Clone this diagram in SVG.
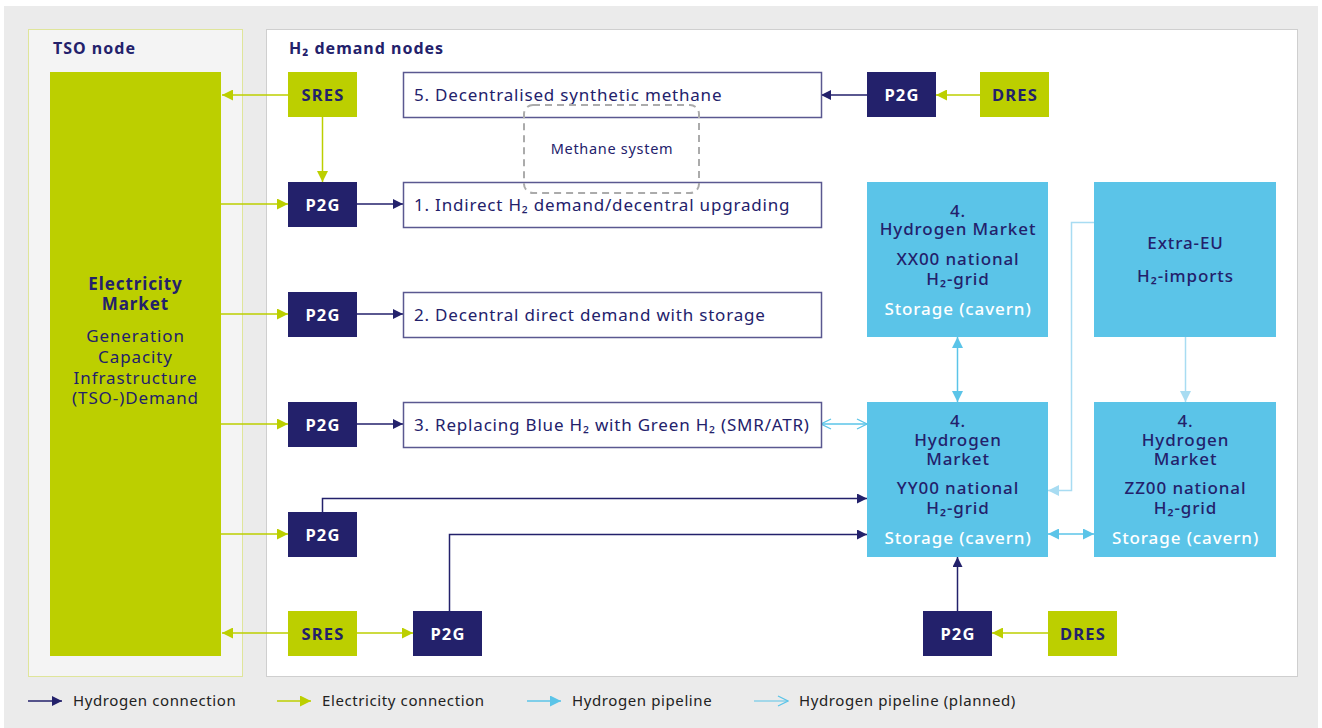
<svg xmlns="http://www.w3.org/2000/svg" width="1322" height="728" viewBox="0 0 1322 728">
  <style>
    text { font-family: "Noto Sans", "Liberation Sans", sans-serif; }
    .title { font-size: 16px; font-weight: 700; fill: #23216b; letter-spacing: 1px; }
    .navybox { fill: #23216b; }
    .limebox { fill: #bccf00; }
    .bluebox { fill: #5bc4e8; }
    .demand { fill: #ffffff; stroke: #5a5890; stroke-width: 1.5; }
    .p2g { font-size: 16.5px; font-weight: 700; fill: #ffffff; text-anchor: middle; letter-spacing: 1.2px; }
    .res { font-size: 16.5px; font-weight: 700; fill: #23216b; text-anchor: middle; letter-spacing: 1.2px; }
    .dtext { font-size: 17px; fill: #23216b; letter-spacing: 0.8px; }
    .btext { font-size: 17px; font-weight: 500; fill: #23216b; text-anchor: middle; letter-spacing: 0.9px; }
    .bold { font-weight: 700; }
    .reg { font-weight: 400; }
    .wtext { font-size: 17px; font-weight: 500; fill: #ffffff; text-anchor: middle; letter-spacing: 0.9px; }
    .h2 { stroke: #23216b; stroke-width: 1.5; fill: none; marker-end: url(#a-navy); }
    .el { stroke: #bccf00; stroke-width: 1.5; fill: none; marker-end: url(#a-lime); }
    .pipe { stroke: #5bc4e8; stroke-width: 1.5; fill: none; marker-end: url(#a-blue); marker-start: url(#a-blue); }
    .plan { stroke: #a8dcf2; stroke-width: 1.5; fill: none; marker-end: url(#a-light); }
    .legend { font-size: 15px; fill: #222222; letter-spacing: 0.6px; }
  </style>
  <defs>
    <marker id="a-navy" viewBox="0 0 10 10" refX="10" refY="5" markerWidth="10" markerHeight="10" markerUnits="userSpaceOnUse" orient="auto-start-reverse">
      <path d="M0,0 L10,5 L0,10 z" fill="#23216b"/>
    </marker>
    <marker id="a-lime" viewBox="0 0 10 10" refX="10" refY="5" markerWidth="11" markerHeight="11" markerUnits="userSpaceOnUse" orient="auto-start-reverse">
      <path d="M0,0 L10,5 L0,10 z" fill="#bccf00"/>
    </marker>
    <marker id="a-blue" viewBox="0 0 10 10" refX="10" refY="5" markerWidth="11" markerHeight="11" markerUnits="userSpaceOnUse" orient="auto-start-reverse">
      <path d="M0,0 L10,5 L0,10 z" fill="#5bc4e8"/>
    </marker>
    <marker id="a-light" viewBox="0 0 10 10" refX="10" refY="5" markerWidth="11" markerHeight="11" markerUnits="userSpaceOnUse" orient="auto-start-reverse">
      <path d="M0,0 L10,5 L0,10 z" fill="#a8dcf2"/>
    </marker>
    <marker id="a-open" viewBox="0 0 12 12" refX="11" refY="6" markerWidth="12" markerHeight="12" markerUnits="userSpaceOnUse" orient="auto-start-reverse">
      <path d="M1,1 L11,6 L1,11" fill="none" stroke="#5bc4e8" stroke-width="1.3"/>
    </marker>
  </defs>

  <!-- page background -->
  <rect x="0" y="0" width="1322" height="728" fill="#ffffff"/>
  <rect x="4" y="6" width="1314" height="722" fill="#ebebeb"/>

  <!-- panels -->
  <g id="tso-panel">
    <rect x="28.5" y="29.5" width="214" height="647" fill="#f4f4f4" stroke="#dfe59a" stroke-width="1"/>
    <text class="title" x="53" y="54">TSO node</text>
  </g>
  <g id="demand-panel">
    <rect x="266.5" y="29.5" width="1031" height="647" fill="#ffffff" stroke="#cfcfcf" stroke-width="1"/>
    <text class="title" x="289" y="54">H₂ demand nodes</text>
  </g>

  <!-- connectors -->
  <g id="connectors">
    <!-- electricity -->
    <line class="el" x1="288" y1="95" x2="222" y2="95"/>
    <line class="el" x1="322.5" y1="117" x2="322.5" y2="182"/>
    <line class="el" x1="221" y1="204" x2="288" y2="204"/>
    <line class="el" x1="221" y1="314" x2="288" y2="314"/>
    <line class="el" x1="221" y1="424" x2="288" y2="424"/>
    <line class="el" x1="221" y1="534" x2="288" y2="534"/>
    <line class="el" x1="288" y1="633" x2="222" y2="633"/>
    <line class="el" x1="357" y1="633" x2="413" y2="633"/>
    <line class="el" x1="980" y1="95" x2="936" y2="95"/>
    <line class="el" x1="1048" y1="633" x2="992" y2="633"/>
    <!-- hydrogen -->
    <line class="h2" x1="357" y1="204" x2="403" y2="204"/>
    <line class="h2" x1="357" y1="314" x2="403" y2="314"/>
    <line class="h2" x1="357" y1="424" x2="403" y2="424"/>
    <line class="h2" x1="867" y1="95" x2="821" y2="95"/>
    <polyline class="h2" points="322.5,512 322.5,498.5 867,498.5"/>
    <polyline class="h2" points="449.5,611 449.5,534.5 867,534.5"/>
    <line class="h2" x1="957.5" y1="611" x2="957.5" y2="557"/>
    <!-- pipelines -->
    <line stroke="#5bc4e8" stroke-width="1.5" marker-start="url(#a-open)" marker-end="url(#a-open)" x1="821" y1="424" x2="867" y2="424"/>
    <line class="pipe" x1="957.5" y1="337" x2="957.5" y2="402"/>
    <line class="pipe" x1="1048" y1="534" x2="1094" y2="534"/>
    <line class="plan" x1="1185.5" y1="337" x2="1185.5" y2="402"/>
    <polyline class="plan" points="1094,222.5 1071.5,222.5 1071.5,490.5 1048,490.5"/>
  </g>

  <!-- electricity market -->
  <g id="electricity-market">
    <rect class="limebox" x="50" y="72" width="171" height="584"/>
    <text class="btext bold" x="135.5" y="290">Electricity</text>
    <text class="btext bold" x="135.5" y="310">Market</text>
    <text class="btext reg" x="135.5" y="342">Generation</text>
    <text class="btext reg" x="135.5" y="363">Capacity</text>
    <text class="btext reg" x="135.5" y="384">Infrastructure</text>
    <text class="btext reg" x="135.5" y="404">(TSO-)Demand</text>
  </g>

  <!-- renewable sources -->
  <g id="sres-top"><rect class="limebox" x="288" y="72" width="69" height="45"/><text class="res" x="323" y="101">SRES</text></g>
  <g id="sres-bottom"><rect class="limebox" x="288" y="611" width="69" height="45"/><text class="res" x="323" y="640">SRES</text></g>
  <g id="dres-top"><rect class="limebox" x="980" y="72" width="69" height="45"/><text class="res" x="1015" y="101">DRES</text></g>
  <g id="dres-bottom"><rect class="limebox" x="1048" y="611" width="69" height="45"/><text class="res" x="1083" y="640">DRES</text></g>

  <!-- power-to-gas units -->
  <g id="p2g-1"><rect class="navybox" x="288" y="182" width="69" height="45"/><text class="p2g" x="323" y="211">P2G</text></g>
  <g id="p2g-2"><rect class="navybox" x="288" y="292" width="69" height="45"/><text class="p2g" x="323" y="321">P2G</text></g>
  <g id="p2g-3"><rect class="navybox" x="288" y="402" width="69" height="45"/><text class="p2g" x="323" y="431">P2G</text></g>
  <g id="p2g-4"><rect class="navybox" x="288" y="512" width="69" height="45"/><text class="p2g" x="323" y="541">P2G</text></g>
  <g id="p2g-5"><rect class="navybox" x="413" y="611" width="69" height="45"/><text class="p2g" x="448" y="640">P2G</text></g>
  <g id="p2g-6"><rect class="navybox" x="867" y="72" width="69" height="45"/><text class="p2g" x="902" y="101">P2G</text></g>
  <g id="p2g-7"><rect class="navybox" x="923" y="611" width="69" height="45"/><text class="p2g" x="958" y="640">P2G</text></g>

  <!-- demand categories -->
  <g id="demand-5"><rect class="demand" x="403.5" y="72.5" width="418" height="45"/><text class="dtext" x="414" y="101">5. Decentralised synthetic methane</text></g>
  <g id="demand-1"><rect class="demand" x="403.5" y="182.5" width="418" height="45"/><text class="dtext" x="414" y="211">1. Indirect H₂ demand/decentral upgrading</text></g>
  <g id="demand-2"><rect class="demand" x="403.5" y="292.5" width="418" height="45"/><text class="dtext" x="414" y="321">2. Decentral direct demand with storage</text></g>
  <g id="demand-3"><rect class="demand" x="403.5" y="402.5" width="418" height="45"/><text class="dtext" x="414" y="431">3. Replacing Blue H₂ with Green H₂ (SMR/ATR)</text></g>

  <!-- methane system overlay -->
  <g id="methane-system">
    <rect x="524" y="105" width="175" height="88" rx="9" fill="none" stroke="#ababab" stroke-width="2" stroke-dasharray="7 5"/>
    <text x="612" y="154" font-size="14.5" fill="#23216b" text-anchor="middle" letter-spacing="0.7">Methane system</text>
  </g>

  <!-- hydrogen markets -->
  <g id="market-xx00">
    <rect class="bluebox" x="867" y="182" width="181" height="155"/>
    <text class="btext" x="958" y="217">4.</text>
    <text class="btext" x="958" y="235">Hydrogen Market</text>
    <text class="btext" x="958" y="265">XX00 national</text>
    <text class="btext" x="958" y="285">H₂-grid</text>
    <text class="wtext" x="958" y="315">Storage (cavern)</text>
  </g>
  <g id="extra-eu">
    <rect class="bluebox" x="1094" y="182" width="182" height="155"/>
    <text class="btext" x="1185.5" y="249">Extra-EU</text>
    <text class="btext" x="1185.5" y="282">H₂-imports</text>
  </g>
  <g id="market-yy00">
    <rect class="bluebox" x="867" y="402" width="181" height="155"/>
    <text class="btext" x="958" y="427">4.</text>
    <text class="btext" x="958" y="446">Hydrogen</text>
    <text class="btext" x="958" y="465">Market</text>
    <text class="btext" x="958" y="494">YY00 national</text>
    <text class="btext" x="958" y="514">H₂-grid</text>
    <text class="wtext" x="958" y="544">Storage (cavern)</text>
  </g>
  <g id="market-zz00">
    <rect class="bluebox" x="1094" y="402" width="182" height="155"/>
    <text class="btext" x="1185.5" y="427">4.</text>
    <text class="btext" x="1185.5" y="446">Hydrogen</text>
    <text class="btext" x="1185.5" y="465">Market</text>
    <text class="btext" x="1185.5" y="494">ZZ00 national</text>
    <text class="btext" x="1185.5" y="514">H₂-grid</text>
    <text class="wtext" x="1185.5" y="544">Storage (cavern)</text>
  </g>

  <!-- legend -->
  <g id="legend">
    <line x1="28" y1="701" x2="62" y2="701" stroke="#23216b" stroke-width="1.5" marker-end="url(#a-navy)"/>
    <text class="legend" x="73" y="706">Hydrogen connection</text>
    <line x1="277" y1="701" x2="311" y2="701" stroke="#bccf00" stroke-width="1.5" marker-end="url(#a-lime)"/>
    <text class="legend" x="322" y="706">Electricity connection</text>
    <line x1="527" y1="701" x2="561" y2="701" stroke="#5bc4e8" stroke-width="1.5" marker-end="url(#a-blue)"/>
    <text class="legend" x="572" y="706">Hydrogen pipeline</text>
    <line x1="754" y1="701" x2="788" y2="701" stroke="#5bc4e8" stroke-width="1.2" marker-end="url(#a-open)"/>
    <text class="legend" x="799" y="706">Hydrogen pipeline (planned)</text>
  </g>
</svg>
